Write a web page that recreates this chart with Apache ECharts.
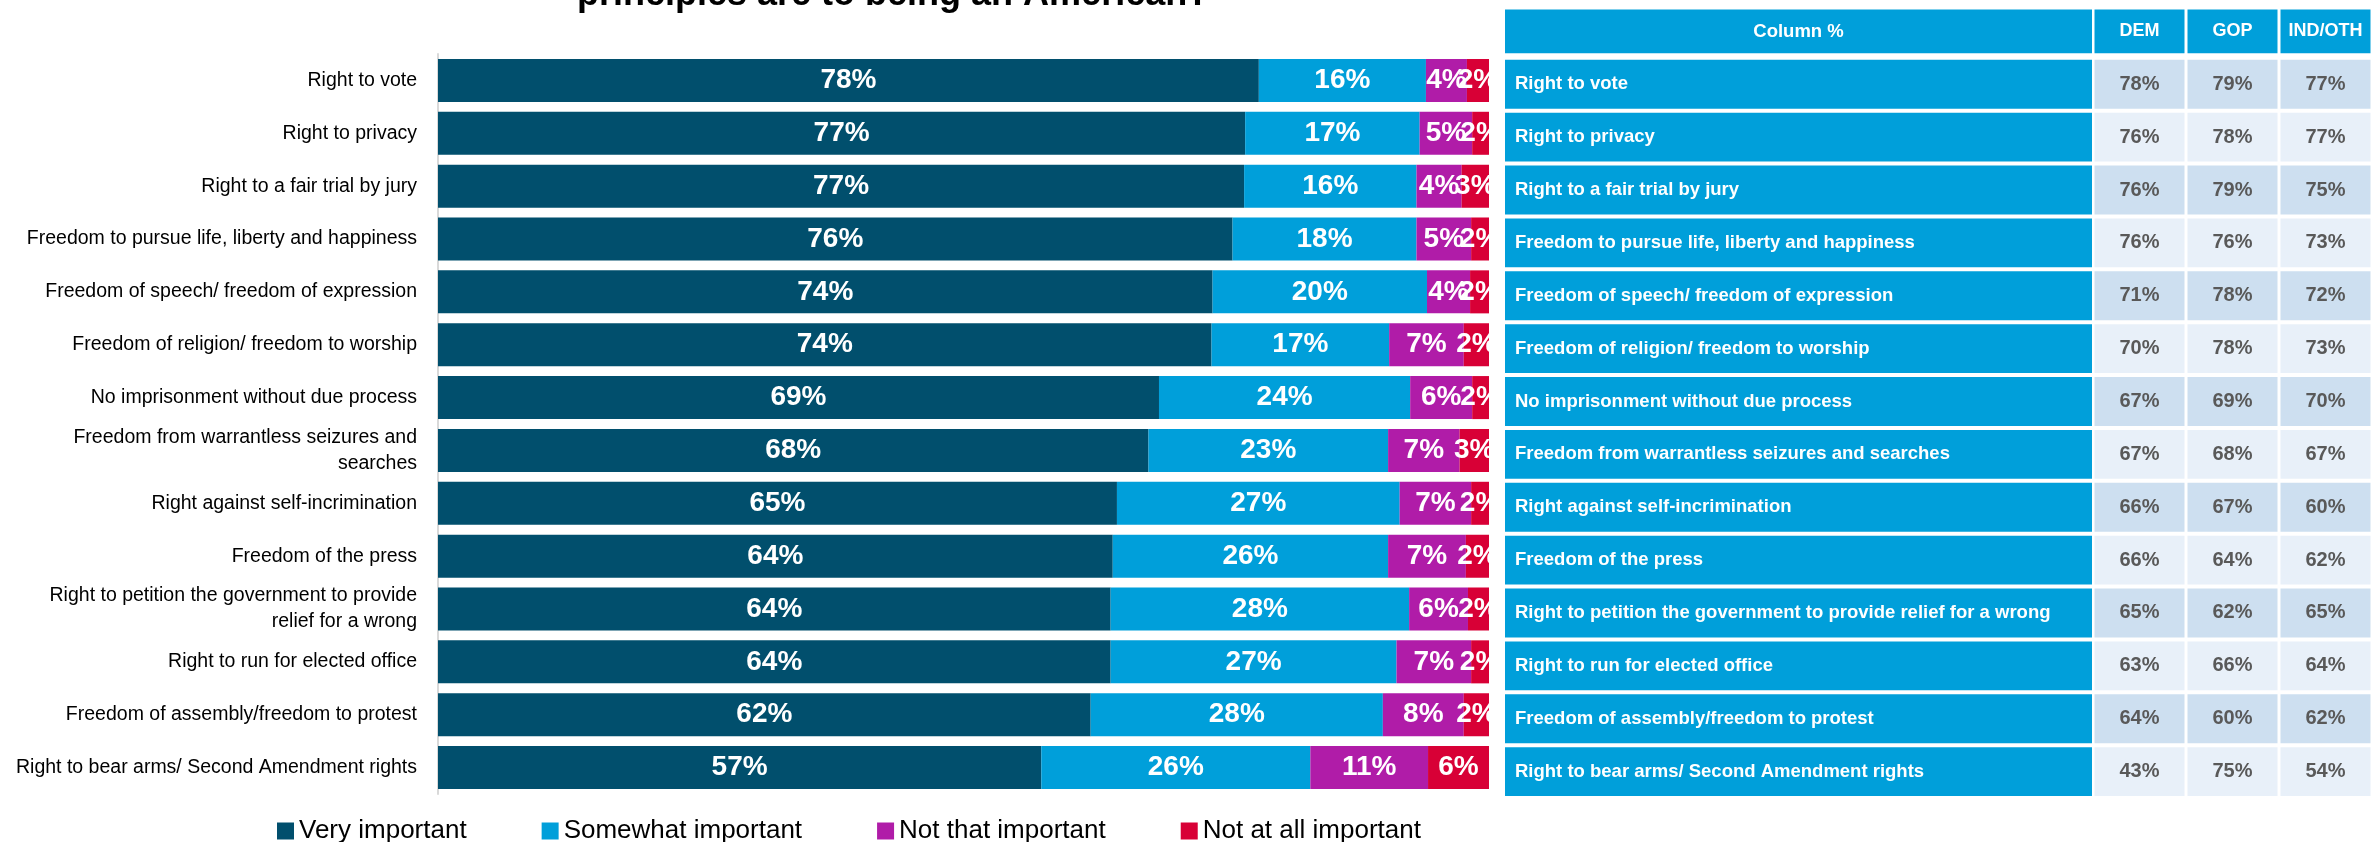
<!DOCTYPE html>
<html>
<head>
<meta charset="utf-8">
<script src="https://cdn.jsdelivr.net/npm/echarts@6/dist/echarts.min.js"></script>
<style>
html,body{margin:0;padding:0;background:#ffffff;}
#chart{width:2372px;height:842px;}
</style>
</head>
<body>
<div id="chart"></div>
<script>
// ---------- DATA ----------
const titleText = 'principles are to being an American?';

const categories = [
  'Right to vote',
  'Right to privacy',
  'Right to a fair trial by jury',
  'Freedom to pursue life, liberty and happiness',
  'Freedom of speech/ freedom of expression',
  'Freedom of religion/ freedom to worship',
  'No imprisonment without due process',
  'Freedom from warrantless seizures and searches',
  'Right against self-incrimination',
  'Freedom of the press',
  'Right to petition the government to provide relief for a wrong',
  'Right to run for elected office',
  'Freedom of assembly/freedom to protest',
  'Right to bear arms/ Second Amendment rights'
];

const seriesNames = ['Very important', 'Somewhat important', 'Not that important', 'Not at all important'];

// percentages (labels show rounded values)
const veryImportant     = [78.1, 76.8, 76.7, 75.6, 73.7, 73.6, 68.6, 67.6, 64.6, 64.2, 64.0, 64.0, 62.1, 57.4];
const somewhatImportant = [15.9, 16.6, 16.4, 17.5, 20.4, 16.9, 23.9, 22.8, 26.9, 26.2, 28.4, 27.2, 27.8, 25.6];
const notThatImportant  = [3.9, 5.0, 4.3, 5.2, 4.1, 7.1, 5.9, 6.8, 6.8, 7.4, 5.6, 7.1, 7.7, 11.2];
const notAtAllImportant = [2.1, 1.6, 2.6, 1.7, 1.8, 2.4, 1.6, 2.8, 1.7, 2.2, 2.0, 1.7, 2.4, 5.8];

const tableHeaderLabel = 'Column %';
const tableColumns = ['DEM', 'GOP', 'IND/OTH'];
const demValues = [78, 76, 76, 76, 71, 70, 67, 67, 66, 66, 65, 63, 64, 43];
const gopValues = [79, 78, 79, 76, 78, 78, 69, 68, 67, 64, 62, 66, 60, 75];
const indValues = [77, 77, 75, 73, 72, 73, 70, 67, 60, 62, 65, 64, 62, 54];

// ---------- STYLE ----------
const FONT = '"Liberation Sans", Arial, sans-serif';
const COLORS = ['#014f6d', '#009fda', '#b01ca8', '#d80036'];
const TABLE_BLUE = '#009fda';
const CELL_DARK = '#cddff0';
const CELL_LIGHT = '#e8f0f9';

const tableValues = [demValues, gopValues, indValues];
const tableRowNames = [tableHeaderLabel].concat(categories);

function wrapLabel(s) {
  if (s.length <= 45) return s;
  const idx = s.lastIndexOf(' ', 44);
  return s.slice(0, idx) + '\n' + s.slice(idx + 1);
}

const barSeriesData = [veryImportant, somewhatImportant, notThatImportant, notAtAllImportant];

const barSeries = seriesNames.map((name, k) => ({
  name: name,
  type: 'bar',
  stack: 'total',
  xAxisIndex: 0,
  yAxisIndex: 0,
  barCategoryGap: '18.6%',
  itemStyle: { color: COLORS[k] },
  label: {
    show: true,
    position: 'inside',
    color: '#ffffff',
    fontFamily: FONT,
    fontWeight: 'bold',
    fontSize: 28,
    formatter: p => Math.round(p.value) + '%'
  },
  data: barSeriesData[k]
}));

// label column of the table
const labelColData = tableRowNames.map((_, i) => [0, i]);
const labelColSeries = {
  type: 'custom',
  xAxisIndex: 1,
  yAxisIndex: 1,
  silent: true,
  data: labelColData,
  renderItem: function (params, api) {
    const i = api.value(1);
    const c = api.coord([0, i]);
    const s = api.size([1, 1]);
    const h = i === 0 ? s[1] - 9 : s[1] - 4;
    const x0 = c[0] - s[0] / 2;
    return {
      type: 'group',
      children: [
        { type: 'rect', shape: { x: x0, y: c[1] - h / 2, width: s[0], height: h }, style: { fill: TABLE_BLUE } },
        {
          type: 'text',
          style: {
            text: tableRowNames[i],
            x: i === 0 ? c[0] : x0 + 10,
            y: c[1],
            align: i === 0 ? 'center' : 'left',
            verticalAlign: 'middle',
            fill: '#ffffff',
            font: 'bold 18.5px ' + FONT
          }
        }
      ]
    };
  }
};

// value columns of the table
const valueCellData = [];
tableRowNames.forEach((_, i) => {
  tableColumns.forEach((__, j) => valueCellData.push([j, i]));
});
const valueColSeries = {
  type: 'custom',
  xAxisIndex: 2,
  yAxisIndex: 2,
  silent: true,
  data: valueCellData,
  renderItem: function (params, api) {
    const j = api.value(0);
    const i = api.value(1);
    const c = api.coord([j, i]);
    const s = api.size([1, 1]);
    const h = i === 0 ? s[1] - 9 : s[1] - 4;
    const w = s[0] - 3;
    const isHeader = i === 0;
    const fill = isHeader ? TABLE_BLUE : ((i - 1) % 2 === 0 ? CELL_DARK : CELL_LIGHT);
    const txt = isHeader ? tableColumns[j] : tableValues[j][i - 1] + '%';
    return {
      type: 'group',
      children: [
        { type: 'rect', shape: { x: c[0] - w / 2, y: c[1] - h / 2, width: w, height: h }, style: { fill: fill } },
        {
          type: 'text',
          style: {
            text: txt,
            x: c[0],
            y: c[1],
            align: 'center',
            verticalAlign: 'middle',
            fill: isHeader ? '#ffffff' : '#595959',
            font: (isHeader ? 'bold 18px ' : 'bold 20px ') + FONT
          }
        }
      ]
    };
  }
};

const chart = echarts.init(document.getElementById('chart'), null, { renderer: 'canvas' });

chart.setOption({
  animation: false,
  backgroundColor: '#ffffff',
  title: {
    text: titleText,
    left: 577,
    top: -23,
    padding: 0,
    textStyle: { fontFamily: FONT, fontSize: 36, fontWeight: 'bold', color: '#000000' }
  },
  legend: {
    data: seriesNames,
    left: 272,
    top: 813,
    icon: 'rect',
    itemWidth: 17,
    itemHeight: 17,
    itemGap: 75,
    textStyle: { fontFamily: FONT, fontSize: 26, color: '#000000' }
  },
  grid: [
    { left: 438, top: 54, width: 1051, height: 740 },
    { left: 1505, top: 5, width: 587, height: 793 },
    { left: 2093, top: 5, width: 295, height: 793 }
  ],
  xAxis: [
    { type: 'value', gridIndex: 0, min: 0, max: 100, show: false },
    { type: 'category', gridIndex: 1, data: ['label'], show: false },
    { type: 'category', gridIndex: 2, data: tableColumns, show: false }
  ],
  yAxis: [
    {
      type: 'category',
      gridIndex: 0,
      inverse: true,
      data: categories,
      axisLine: { show: true, lineStyle: { color: '#d9d9d9', width: 2 } },
      axisTick: { show: false },
      axisLabel: {
        margin: 21,
        fontFamily: FONT,
        fontSize: 19.5,
        lineHeight: 26,
        color: '#000000',
        formatter: wrapLabel
      }
    },
    { type: 'category', gridIndex: 1, inverse: true, data: tableRowNames, show: false },
    { type: 'category', gridIndex: 2, inverse: true, data: tableRowNames, show: false }
  ],
  series: barSeries.concat([labelColSeries, valueColSeries])
});
</script>
</body>
</html>
